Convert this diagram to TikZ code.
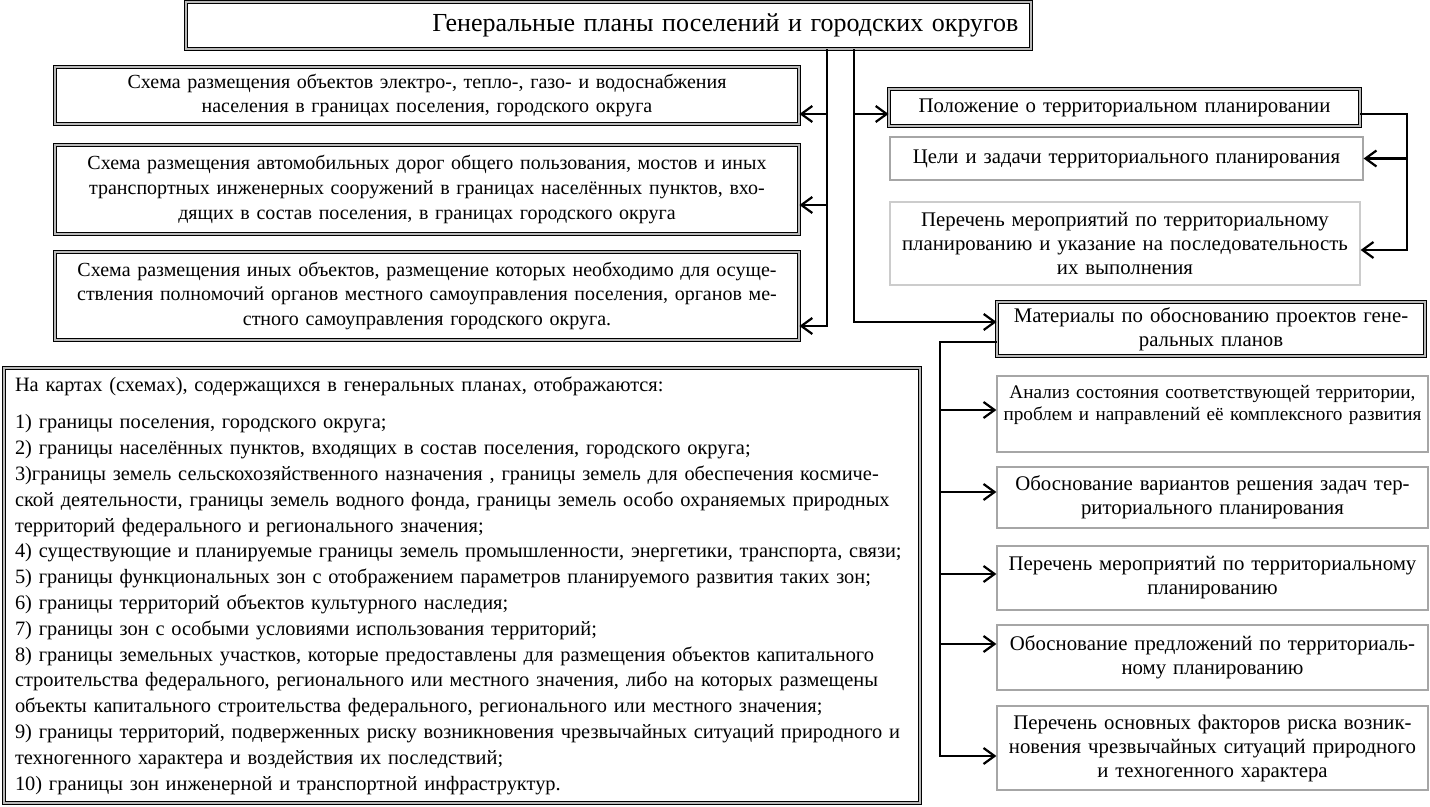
\documentclass[tikz,border=0pt]{standalone}
\usepackage{fontspec}
\setmainfont{Liberation Serif}
\usetikzlibrary{arrows.meta}
\tikzset{dblbox/.style={draw=black, line width=0.45pt, double=gray!55,
      double distance=1.2pt, align=center, inner sep=2pt},
    thinbox/.style={draw=gray!70, line width=0.6pt, align=center, inner sep=2pt},
    conn/.style={line width=1.1pt, -{Straight Barb[length=5.5pt,width=8pt]}},
    lfont/.style={font=\fontsize{10}{12.4}\selectfont},
    rfont/.style={font=\fontsize{10.4}{12}\selectfont},
    }
\begin{document}
\begin{tikzpicture}[x=0.5pt,y=-0.5pt]
\useasboundingbox (0,0) rectangle (1430,807);
% title
\node[dblbox, minimum width=422.5pt, minimum height=23.5pt, text width=410pt,
  align=right, font=\fontsize{13}{15}\selectfont] (title) at (608.5,25.5)
  {Генеральные планы поселений и городских округов};
% left column
\node[dblbox, lfont, minimum width=372pt, minimum height=28.5pt, text width=362pt] (sch1) at (427,95.5)
  {Схема размещения объектов электро-, тепло-, газо- и водоснабжения\\
   населения в границах поселения, городского округа};
\node[dblbox, lfont, minimum width=372pt, minimum height=44.5pt, text width=362pt] (sch2) at (427,189.5)
  {Схема размещения автомобильных дорог общего пользования, мостов и иных\\
   транспортных инженерных сооружений в границах населённых пунктов, вхо-\\
   дящих в состав поселения, в границах городского округа};
\node[dblbox, lfont, minimum width=372pt, minimum height=44pt, text width=362pt] (sch3) at (427,296)
  {Схема размещения иных объектов, размещение которых необходимо для осуще-\\
   ствления полномочий органов местного самоуправления поселения, органов ме-\\
   стного самоуправления городского округа.};
% maps
\node[dblbox, align=left, minimum width=458pt, minimum height=217.5pt, text width=447pt,
  inner xsep=5.5pt, font=\fontsize{10.2}{12.9}\selectfont] (maps) at (462,585.5)
  {На картах (схемах), содержащихся в генеральных планах, отображаются:\\[6pt]
   1) границы поселения, городского округа;\\
   2) границы населённых пунктов, входящих в состав поселения, городского округа;\\
   3)границы земель сельскохозяйственного назначения , границы земель для обеспечения космиче-\\
   ской деятельности, границы земель водного фонда, границы земель особо охраняемых природных\\
   территорий федерального и регионального значения;\\
   4) существующие и планируемые границы земель промышленности, энергетики, транспорта, связи;\\
   5) границы функциональных зон с отображением параметров планируемого развития таких зон;\\
   6) границы территорий объектов культурного наследия;\\
   7) границы зон с особыми условиями использования территорий;\\
   8) границы земельных участков, которые предоставлены для размещения объектов капитального\\
   строительства федерального, регионального или местного значения, либо на которых размещены\\
   объекты капитального строительства федерального, регионального или местного значения;\\
   9) границы территорий, подверженных риску возникновения чрезвычайных ситуаций природного и\\
   техногенного характера и воздействия их последствий;\\
   10) границы зон инженерной и транспортной инфраструктур.};
% right top
\node[dblbox, rfont, minimum width=235.5pt, minimum height=18.5pt, text width=229pt] (pol) at (1124.5,107.5)
  {Положение о территориальном планировании};
\node[thinbox, rfont, minimum width=236.5pt, minimum height=21.5pt, text width=230pt] (celi) at (1126.5,158.5)
  {Цели и задачи территориального планирования};
\node[thinbox, draw=gray!40, rfont, minimum width=235pt, minimum height=41.5pt, text width=230pt] (perech) at (1125,243.5)
  {Перечень мероприятий по территориальному\\
   планированию и указание на последовательность\\
   их выполнения};
% right bottom
\node[dblbox, rfont, minimum width=214pt, minimum height=27pt, text width=208pt] (mat) at (1211,329)
  {Материалы по обоснованию проектов гене-\\ральных планов};
\node[thinbox, font=\fontsize{9.6}{11}\selectfont, minimum width=215.5pt, minimum height=38pt, text width=209pt] (anal) at (1212.5,414)
  {Анализ состояния соответствующей территории,\\
   проблем и направлений её комплексного развития\\ \mbox{}};
\node[thinbox, rfont, minimum width=215.5pt, minimum height=30.5pt, text width=209pt] (obosnvar) at (1212.5,497.5)
  {Обоснование вариантов решения задач тер-\\риториального планирования};
\node[thinbox, rfont, minimum width=215.5pt, minimum height=32pt, text width=209pt] (permer) at (1212.5,578)
  {Перечень мероприятий по территориальному\\ планированию};
\node[thinbox, rfont, minimum width=215.5pt, minimum height=32.5pt, text width=209pt] (obospred) at (1212.5,657.5)
  {Обоснование предложений по территориаль-\\ному планированию};
\node[thinbox, rfont, minimum width=215.5pt, minimum height=42pt, text width=209pt] (risk) at (1212.5,748)
  {Перечень основных факторов риска возник-\\
   новения чрезвычайных ситуаций природного\\
   и техногенного характера};
% connectors
\coordinate (trunkL) at (827,326);
\coordinate (trunkR) at (854,322);
\coordinate (loopR) at (1407,250);
\coordinate (trunkM) at (940,756);
\draw[conn] (title.south -| trunkL) -- (trunkL) -- (sch3.east |- trunkL);
\draw[conn] (trunkL |- 0,114) -- (sch1.east |- 0,114);
\draw[conn] (trunkL |- 0,205) -- (sch2.east |- 0,205);
\draw[conn] (title.south -| trunkR) -- (trunkR) -- (mat.west |- trunkR);
\draw[conn] (trunkR |- 0,114) -- (pol.west |- 0,114);
\draw[conn] (pol.east |- 0,114) -| (loopR) -- (perech.east |- loopR);
\draw[conn] (loopR |- celi.east) -- (celi.east);
\draw[conn] (mat.west |- 0,342) -| (trunkM) -- (risk.west |- trunkM);
\foreach \n/\y in {anal/410, obosnvar/492, permer/574, obospred/644}
  \draw[conn] (trunkM |- 0,\y) -- (\n.west |- 0,\y);
\end{tikzpicture}
\end{document}
